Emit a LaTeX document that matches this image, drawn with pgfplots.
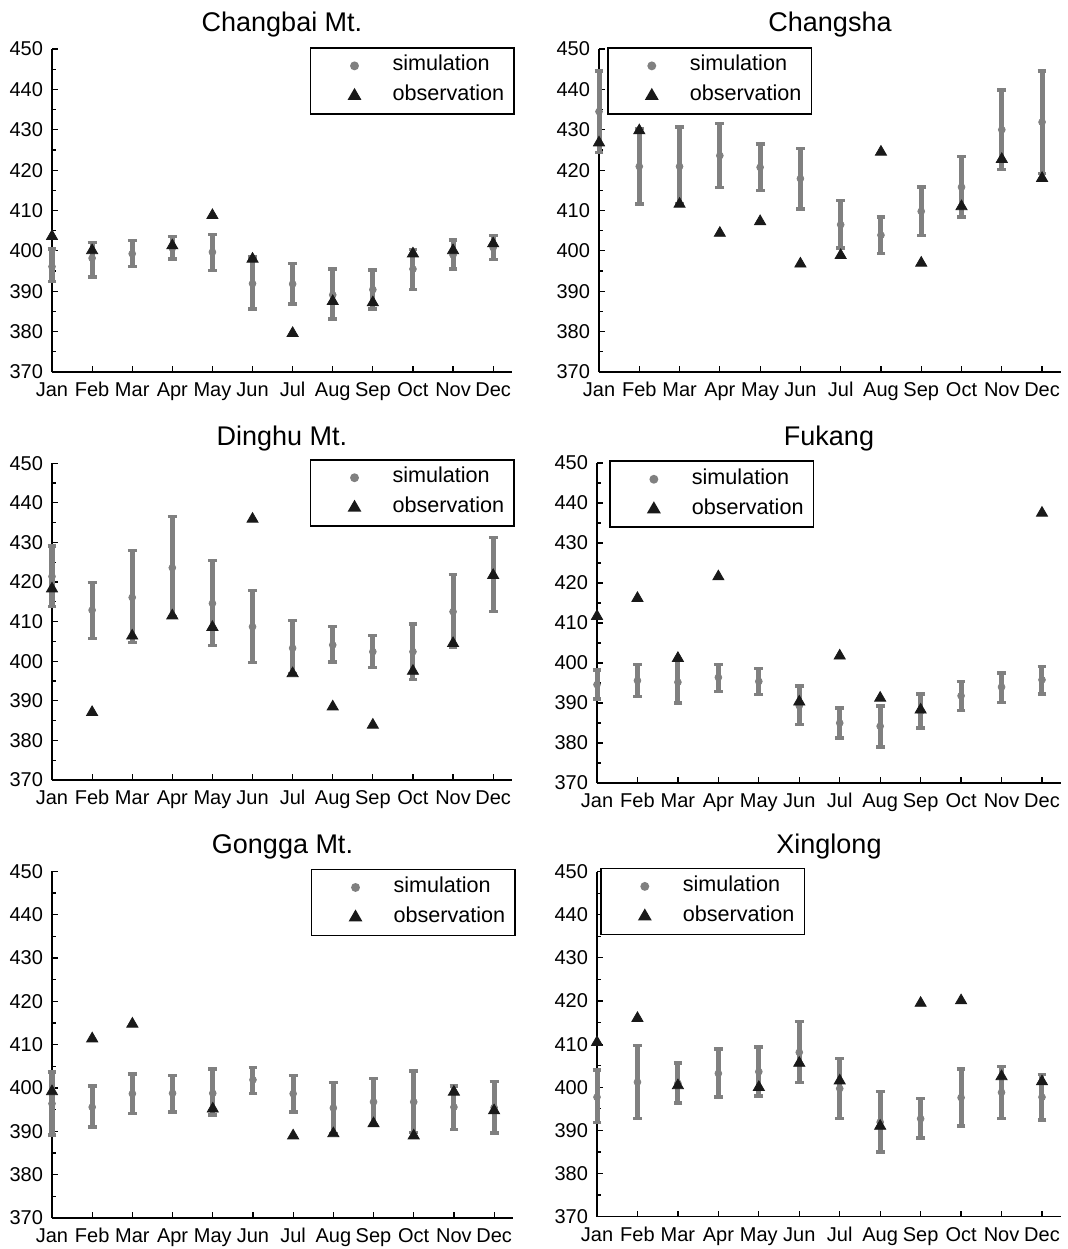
\documentclass[border=0pt]{standalone}
\usepackage{fontspec}
\setmainfont{Liberation Sans}
\usepackage{pgfplots}
\usepackage{pgfplotstable}
\pgfplotsset{compat=1.18}
\definecolor{simgray}{RGB}{128,128,128}
\definecolor{obsblack}{RGB}{25,25,25}

\pgfplotstableread{
m s hi lo o
1 396.1 400.5 392.4 403.6
2 398.2 402.1 393.5 400.1
3 399.3 402.6 396.1 nan
4 400.7 403.6 398.0 401.3
5 399.7 404.1 395.2 408.8
6 391.9 398.5 385.6 398.0
7 391.8 396.9 386.8 379.6
8 389.1 395.5 383.1 387.5
9 390.4 395.3 385.6 387.2
10 395.5 400.3 390.5 399.3
11 399.0 402.7 395.5 400.1
12 400.8 403.8 397.8 401.8
}\tabA

\pgfplotstableread{
m s hi lo o
1 434.5 444.6 424.4 426.8
2 420.9 430.3 411.6 429.8
3 420.9 430.7 411.6 411.6
4 423.6 431.6 415.7 404.4
5 420.7 426.5 414.9 407.3
6 417.9 425.3 410.4 396.8
7 406.5 412.5 400.7 398.9
8 403.9 408.4 399.4 424.5
9 409.8 415.8 403.8 397.0
10 415.8 423.4 408.4 411.0
11 430.0 439.8 420.2 422.7
12 431.9 444.6 419.2 418.0
}\tabB

\pgfplotstableread{
m s hi lo o
1 421.4 429.1 413.8 418.3
2 412.9 419.9 405.8 387.1
3 416.1 427.9 404.7 406.4
4 423.6 436.5 411.3 411.5
5 414.6 425.5 404.0 408.6
6 408.7 417.9 399.6 435.9
7 403.3 410.3 396.8 396.9
8 404.1 408.7 399.8 388.5
9 402.4 406.5 398.4 383.9
10 402.4 409.4 395.4 397.5
11 412.5 421.9 403.4 404.5
12 421.6 431.2 412.6 421.7
}\tabC

\pgfplotstableread{
m s hi lo o
1 394.6 398.3 391.0 411.7
2 395.6 399.7 391.7 416.2
3 395.2 400.8 390.0 401.2
4 396.4 399.7 392.9 421.6
5 395.4 398.6 392.1 nan
6 389.3 394.3 384.6 390.3
7 385.0 388.75 381.25 401.8
8 384.2 389.3 379.0 391.25
9 387.9 392.3 383.75 388.3
10 391.8 395.4 388.1 nan
11 394.0 397.5 390.2 nan
12 395.8 399.2 392.3 437.5
}\tabD

\pgfplotstableread{
m s hi lo o
1 396.4 403.7 389.2 399.2
2 395.6 400.5 391.0 411.4
3 398.7 403.2 394.1 414.8
4 398.8 402.9 394.5 nan
5 398.8 404.4 393.8 395.2
6 401.9 404.8 398.7 nan
7 398.7 402.9 394.5 389.0
8 395.4 401.3 389.5 389.5
9 396.8 402.2 391.3 391.8
10 396.8 403.9 389.8 389.0
11 395.6 400.5 390.5 399.1
12 395.5 401.5 389.6 394.8
}\tabE

\pgfplotstableread{
m s hi lo o
1 397.7 404.0 391.8 410.4
2 401.2 409.7 392.8 416.0
3 400.9 405.6 396.3 400.4
4 403.2 408.9 397.7 nan
5 403.6 409.3 398.0 400.0
6 408.1 415.2 401.1 405.6
7 399.7 406.6 392.8 401.5
8 391.9 399.0 385.0 391.0
9 392.7 397.4 388.2 419.5
10 397.6 404.2 391.0 420.1
11 398.8 404.8 392.8 402.5
12 397.7 402.9 392.4 401.3
}\tabF

\pgfplotsset{
 panel/.style={
  scale only axis, clip=false,
  xmin=1, xmax=12.47, ymin=370, ymax=450,
  axis lines*=left,
  axis line style={line width=0.7pt, black},
  xtick={1,...,12},
  xticklabels={Jan,Feb,Mar,Apr,May,Jun,Jul,Aug,Sep,Oct,Nov,Dec},
  ytick={370,380,...,450},
  minor y tick num=1,
  tick align=inside,
  major tick length=3pt, minor tick length=1.8pt,
  tick style={black, line width=0.6pt},
  tick label style={font=\fontsize{10}{12}\selectfont},
  /pgf/number format/assume math mode=true,
  yticklabel style={xshift=-1pt},
  xticklabel style={anchor=base, yshift=-12.3pt},
  every axis title shift=0pt,
  title style={font=\fontsize{13.5}{16}\selectfont, at={(0.5,1)}, anchor=base, yshift=9pt},
  legend style={font=\fontsize{10.8}{13}\selectfont, draw=black, line width=0.8pt,
    inner xsep=3pt, inner ysep=1.5pt,
    nodes={inner sep=2pt, text height=8pt, text depth=3pt}},
  legend cell align=left,
  legend image code/.code={\path[draw=none,fill=none] (0pt,-1pt) rectangle (36pt,1pt); \draw[##1] plot coordinates {(19pt,0pt)};},
  unbounded coords=discard,
 },
 simplot/.style={only marks, mark=*, mark size=1.7pt, color=simgray, forget plot,
   error bars/.cd, y dir=both, y explicit,
   error bar style={line width=2.5pt, color=simgray},
   error mark=-,
   error mark options={rotate=90, line width=1.7pt, mark size=2.2pt, color=simgray}},
 obsplot/.style={only marks, mark=triangle*, mark size=3.2pt, color=obsblack, forget plot},
}

\newcommand{\panelplots}[1]{%
  \addplot[simplot] table[x=m, y=s, y error plus expr=\thisrow{hi}-\thisrow{s}, y error minus expr=\thisrow{s}-\thisrow{lo}] {#1};
  \addplot[obsplot] table[x=m, y=o] {#1};
  \addlegendimage{only marks, mark=*, mark size=1.8pt, color=simgray}
  \addlegendentry{simulation}
  \addlegendimage{only marks, mark=triangle*, mark size=3.2pt, color=obsblack}
  \addlegendentry{observation}
}

\begin{document}
\begin{tikzpicture}
\path[use as bounding box] (0,0) rectangle (534pt,-624.5pt);

\begin{axis}[panel, at={(26pt,-186pt)}, anchor=south west, width=230pt, height=161.5pt,
  title={Changbai Mt.}, legend style={at={(1.0065,1.006)}, anchor=north east}]
\panelplots{\tabA}
\end{axis}

\begin{axis}[panel, at={(299.5pt,-186pt)}, anchor=south west, width=231pt, height=161.5pt,
  title={Changsha}, legend style={at={(0.0173,1.006)}, anchor=north west}]
\panelplots{\tabB}
\end{axis}

\begin{axis}[panel, at={(26pt,-390pt)}, anchor=south west, width=230pt, height=158.4pt,
  title={Dinghu Mt.}, legend style={at={(1.0065,1.0135)}, anchor=north east}]
\panelplots{\tabC}
\end{axis}

\begin{axis}[panel, at={(298.5pt,-391.5pt)}, anchor=south west, width=232pt, height=160pt,
  title={Fukang}, legend style={at={(0.026,1.008)}, anchor=north west}]
\panelplots{\tabD}
\end{axis}

\begin{axis}[panel, at={(26pt,-609pt)}, anchor=south west, width=230.5pt, height=173.3pt,
  title={Gongga Mt.}, legend style={at={(1.0065,1.008)}, anchor=north east}]
\panelplots{\tabE}
\end{axis}

\begin{axis}[panel, at={(298.5pt,-608.3pt)}, anchor=south west, width=232pt, height=172.5pt,
  title={Xinglong}, legend style={at={(0.0065,1.0116)}, anchor=north west}]
\panelplots{\tabF}
\end{axis}
\end{tikzpicture}
\end{document}
